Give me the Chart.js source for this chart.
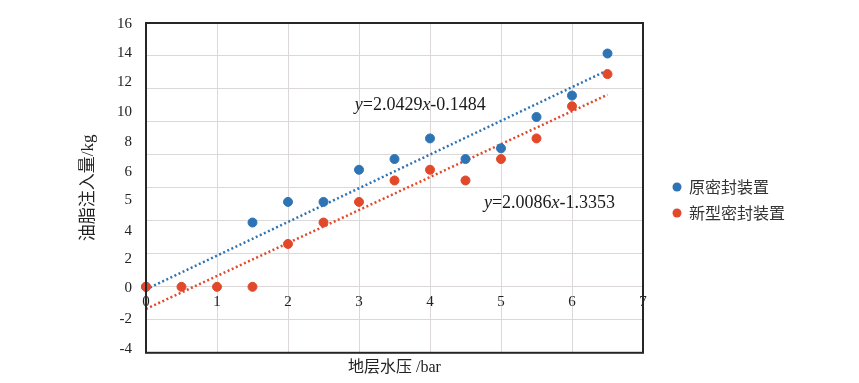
<!DOCTYPE html>
<html>
<head>
<meta charset="utf-8">
<script src="https://cdn.jsdelivr.net/npm/chart.js@4.4.1/dist/chart.umd.min.js"></script>
<style>
  html, body { margin: 0; padding: 0; background: #fff; }
  #wrap { width: 859px; height: 383px; }
</style>
</head>
<body>
<div id="wrap"><canvas id="chart" width="859" height="383"></canvas></div>
<script>
const serif = "'Liberation Serif', 'Times New Roman', 'Noto Sans CJK SC', serif";
const blue = "#2e74b5", red = "#e2492a";

// values
const oldSealX = [0, 1.5, 2, 2.5, 3, 3.5, 4, 4.5, 5, 5.5, 6, 6.5];
const oldSealY = [0, 3.9, 5.15, 5.15, 7.1, 7.75, 9.0, 7.75, 8.4, 10.3, 11.6, 14.15];
const newSealX = [0, 0.5, 1, 1.5, 2, 2.5, 3, 3.5, 4, 4.5, 5, 5.5, 6, 6.5];
const newSealY = [0, 0, 0, 0, 2.6, 3.9, 5.15, 6.45, 7.1, 6.45, 7.75, 9.0, 10.95, 12.9];

// trend line ends (from the printed equations)
const oldTrendX = [0, 6.5], oldTrendY = [-0.15, 13.13];
const newTrendX = [0, 6.5], newTrendY = [-1.34, 11.65];

const seriesNames = ["原密封装置", "新型密封装置"];
const equations = ["y=2.0429x-0.1484", "y=2.0086x-1.3353"];

// y labels as printed (they do not sit on the grid lines)
const yTickLabels = ["16", "14", "12", "10", "8", "6", "5", "4", "2", "0", "-2", "-4"];
const yTickValues = [15.95, 14.2, 12.4, 10.6, 8.8, 6.95, 5.25, 3.4, 1.7, -0.05, -1.95, -3.75];

const xTitle = "地层水压 /bar";
const yTitle = "油脂注入量/kg";

function pts(xs, ys) {
  return xs.map((x, i) => ({ x: x, y: ys[i] }));
}

// equation text with italic x / y
function drawEquation(ctx, text, left, midY) {
  let x = left;
  ctx.textBaseline = "middle";
  ctx.textAlign = "left";
  for (const ch of text) {
    ctx.font = (ch === "x" || ch === "y" ? "italic " : "") + "18px " + serif;
    ctx.fillText(ch, x, midY);
    x += ctx.measureText(ch).width;
  }
}

const extras = {
  id: "extras",
  afterDraw(chart) {
    const ctx = chart.ctx, a = chart.chartArea;
    const xs = chart.scales.x, ys = chart.scales.y;
    ctx.save();
    // plot frame
    ctx.strokeStyle = "#262626";
    ctx.lineWidth = 2;
    ctx.strokeRect(a.left, a.top, a.right - a.left, a.bottom - a.top);

    // equations
    ctx.fillStyle = "#1a1a1a";
    drawEquation(ctx, equations[0], xs.getPixelForValue(2.94), ys.getPixelForValue(11.0));
    drawEquation(ctx, equations[1], xs.getPixelForValue(4.76), ys.getPixelForValue(5.05));

    // legend
    const colors = [blue, red];
    seriesNames.forEach((name, i) => {
      const cy = 187 + i * 26;
      ctx.beginPath();
      ctx.fillStyle = colors[i];
      ctx.arc(a.right + 34, cy, 4.5, 0, Math.PI * 2);
      ctx.fill();
      ctx.fillStyle = "#333";
      ctx.font = "16px 'Noto Sans CJK SC', sans-serif";
      ctx.textAlign = "left";
      ctx.textBaseline = "middle";
      ctx.fillText(name, a.right + 46, cy);
    });
    ctx.restore();
  }
};

new Chart(document.getElementById("chart"), {
  type: "scatter",
  data: {
    datasets: [
      { label: seriesNames[1], data: pts(newSealX, newSealY), backgroundColor: red, borderColor: red,
        pointRadius: 4.5, pointHoverRadius: 4.5, clip: false, order: 0 },
      { label: seriesNames[0], data: pts(oldSealX, oldSealY), backgroundColor: blue, borderColor: blue,
        pointRadius: 4.5, pointHoverRadius: 4.5, clip: false, order: 1 },
      { label: "trend old", data: pts(oldTrendX, oldTrendY), showLine: true, borderColor: blue,
        borderWidth: 2.5, borderDash: [2, 2.5], pointRadius: 0, order: 2 },
      { label: "trend new", data: pts(newTrendX, newTrendY), showLine: true, borderColor: red,
        borderWidth: 2.5, borderDash: [2, 2.5], pointRadius: 0, order: 3 }
    ]
  },
  options: {
    responsive: false,
    animation: false,
    events: [],
    layout: { padding: { left: 78, right: 216, top: 23, bottom: 0 } },
    plugins: { legend: { display: false }, tooltip: { enabled: false } },
    scales: {
      x: {
        type: "linear", axis: "x", position: { y: 0 },
        min: 0, max: 7,
        ticks: { stepSize: 1, padding: 6, color: "#222", font: { family: serif, size: 15 } },
        grid: { color: "#dcd8d8", drawTicks: false },
        border: { display: false }
      },
      xt: {
        type: "linear", axis: "x", position: "bottom", min: 0, max: 7,
        ticks: { display: false },
        grid: { display: false, drawTicks: false },
        border: { display: false },
        title: { display: true, text: xTitle, color: "#222", padding: { top: 5, bottom: 6 },
          font: { family: serif, size: 16 } }
      },
      y: {
        type: "linear", position: "left", min: -4, max: 16,
        afterBuildTicks: s => { s.ticks = yTickValues.map(v => ({ value: v })); },
        afterFit: s => { s.width = 68; },
        ticks: {
          padding: 14, color: "#222", font: { family: serif, size: 15 },
          callback: (v, i) => yTickLabels[i]
        },
        grid: { display: false, drawTicks: false },
        border: { display: false },
        title: { display: true, text: yTitle, color: "#222", padding: { top: 0, bottom: 0 },
          font: { family: serif, size: 17 } }
      },
      yGrid: {
        type: "linear", position: "left", min: -4, max: 16,
        ticks: { display: false, stepSize: 2 },
        grid: { color: "#dcd8d8", drawTicks: false },
        border: { display: false }
      }
    }
  },
  plugins: [extras]
});
</script>
</body>
</html>
